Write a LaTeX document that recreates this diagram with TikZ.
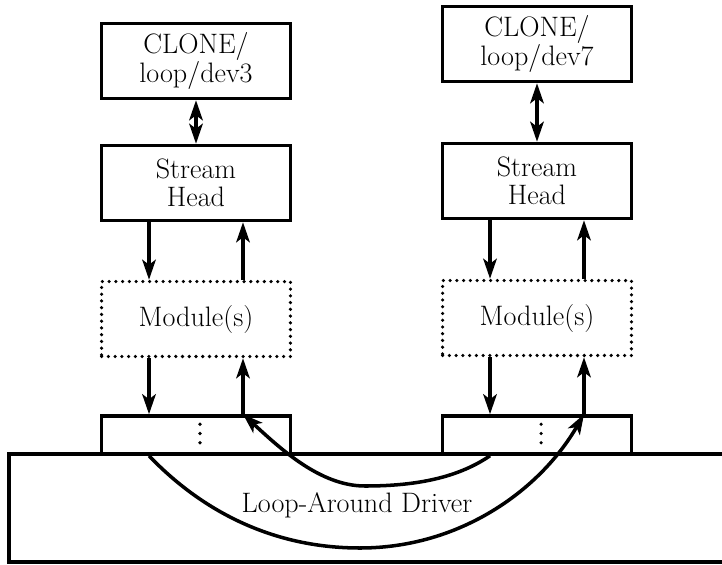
\documentclass[tikz,border=0pt]{standalone}
\usepackage{tikz}
\usetikzlibrary{arrows.meta,positioning}

\begin{document}
\begin{tikzpicture}[x=0.02cm,y=-0.02cm,line width=2pt,
  font=\fontsize{16}{16}\selectfont,
  >={Stealth[length=0.4cm,width=0.27cm,inset=0.1cm]},
  box/.style={draw,minimum width=3.78cm,minimum height=1.5cm,align=center,inner sep=0pt},
  modbox/.style={box,dash pattern=on 0pt off 0.135cm,line cap=round},
  drvbox/.style={draw,minimum width=3.78cm,minimum height=0.76cm,inner sep=0pt},
  dots/.style={dash pattern=on 0pt off 0.185cm,line cap=round}]
\useasboundingbox (0,0) rectangle (722,564);
\def\colA{196}
\def\colB{537}
% driver
\draw (722,454) -| (9,562) -- (722,562);
\node (drvlabel) at (357,505) {Loop-Around Driver};
% left stream
\node[box] (clA) at (\colA,61) {CLONE/\\loop/dev3};
\node[box] (shA) at (\colA,183) {Stream\\Head};
\node[modbox] (modA) at (\colA,319) {Module(s)};
\node[drvbox] (drvA) at (\colA,435) {};
% right stream
\node[box] (clB) at (\colB,44) {CLONE/\\loop/dev7};
\node[box] (shB) at (\colB,181) {Stream\\Head};
\node[modbox] (modB) at (\colB,318) {Module(s)};
\node[drvbox] (drvB) at (\colB,435) {};
\foreach \s in {A,B}{
  \draw[<->] (cl\s) -- (sh\s);
  \draw[->] ([xshift=-0.94cm]sh\s.south) -- ([xshift=-0.94cm]mod\s.north);
  \draw[<-] ([xshift=0.94cm]sh\s.south) -- ([xshift=0.94cm]mod\s.north);
  \draw[->] ([xshift=-0.94cm]mod\s.south) -- ([xshift=-0.94cm]drv\s.north);
  \draw[<-] ([xshift=0.94cm]mod\s.south) -- ([xshift=0.94cm]drv\s.north);
  \draw[dots] ([xshift=0.08cm,yshift=-0.2cm]drv\s.north) -- ([xshift=0.08cm,yshift=0.18cm]drv\s.south);
}
% loop-around paths
\coordinate (lowout) at (360,548);
\coordinate (lowin) at (365,486);
\draw[->] ([xshift=-0.94cm]drvA.south) .. controls +(42,44) and +(-100,0) .. (lowout)
  .. controls +(100,0) and +(-44,76) .. ([xshift=0.94cm]drvB.north);
\draw[->] ([xshift=-0.94cm]drvB.south) .. controls +(-35,24) and +(45,0) .. (lowin)
  .. controls +(-45,0) and +(37,34) .. ([xshift=0.94cm]drvA.north);
\end{tikzpicture}
\end{document}
